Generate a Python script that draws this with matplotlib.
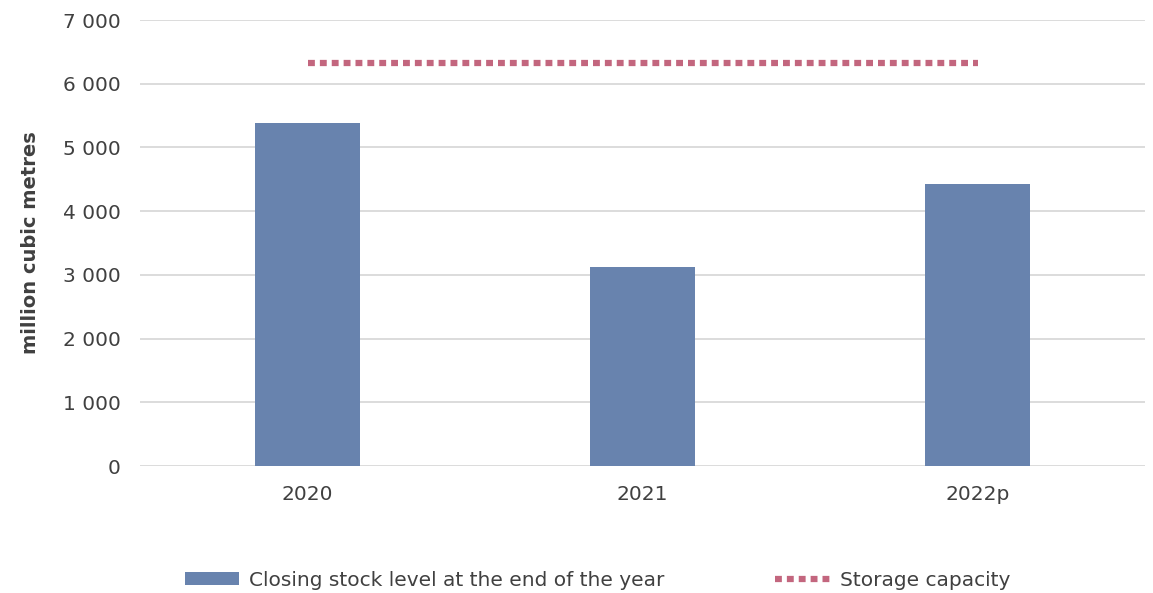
import matplotlib
matplotlib.use("Agg")
import matplotlib.pyplot as plt
from matplotlib.ticker import FuncFormatter
import numpy as np

plt.rcParams['font.family'] = ['DejaVu Sans']

years = ["2020", "2021", "2022p"]
closing_stock = [5385, 3125, 4425]
storage_capacity = [6325, 6325, 6325]

BAR_COLOR = "#6883ae"
LINE_COLOR = "#c3667e"
TEXT_COLOR = "#404040"
GRID_COLOR = "#d9d9d9"

W, H = 1153, 593
fig = plt.figure(figsize=(W / 100, H / 100), dpi=100)
ax = fig.add_axes([140 / W, (H - 466) / H, (1145 - 140) / W, (466 - 20) / H])

x = np.arange(len(years))
bars = ax.bar(x, closing_stock, width=0.313, color=BAR_COLOR, zorder=3,
              label="Closing stock level at the end of the year")
line, = ax.plot(x, storage_capacity, color=LINE_COLOR, linewidth=4.5,
                linestyle=(0, (1.1, 0.8)), dash_capstyle="butt", zorder=4,
                label="Storage capacity")

ax.set_xlim(-0.5, len(years) - 0.5)
ax.set_ylim(0, 7000)
ax.set_yticks(np.arange(0, 7001, 1000))
ax.yaxis.set_major_formatter(FuncFormatter(lambda v, p: f"{int(v):,}".replace(",", " ")))
ax.set_xticks(x)
ax.set_xticklabels(years)

ax.grid(axis="y", color=GRID_COLOR, linewidth=1.3, zorder=0)
ax.set_axisbelow(True)
for s in ax.spines.values():
    s.set_visible(False)
ax.tick_params(axis="both", length=0, labelsize=14.5, colors=TEXT_COLOR)
ax.tick_params(axis="y", pad=14)
ax.tick_params(axis="x", pad=14)

ax.set_ylabel("million cubic metres", fontsize=14, fontweight="bold",
              color=TEXT_COLOR, labelpad=16)

leg = fig.legend([bars, line], [bars.get_label(), line.get_label()],
                 loc="center", bbox_to_anchor=(0.518, 1 - 580 / H),
                 ncol=2, frameon=False, fontsize=14.5, handlelength=2.7,
                 handleheight=0.65, columnspacing=5.5, handletextpad=0.5)
for t in leg.get_texts():
    t.set_color(TEXT_COLOR)

fig.savefig("out.png", dpi=100)
